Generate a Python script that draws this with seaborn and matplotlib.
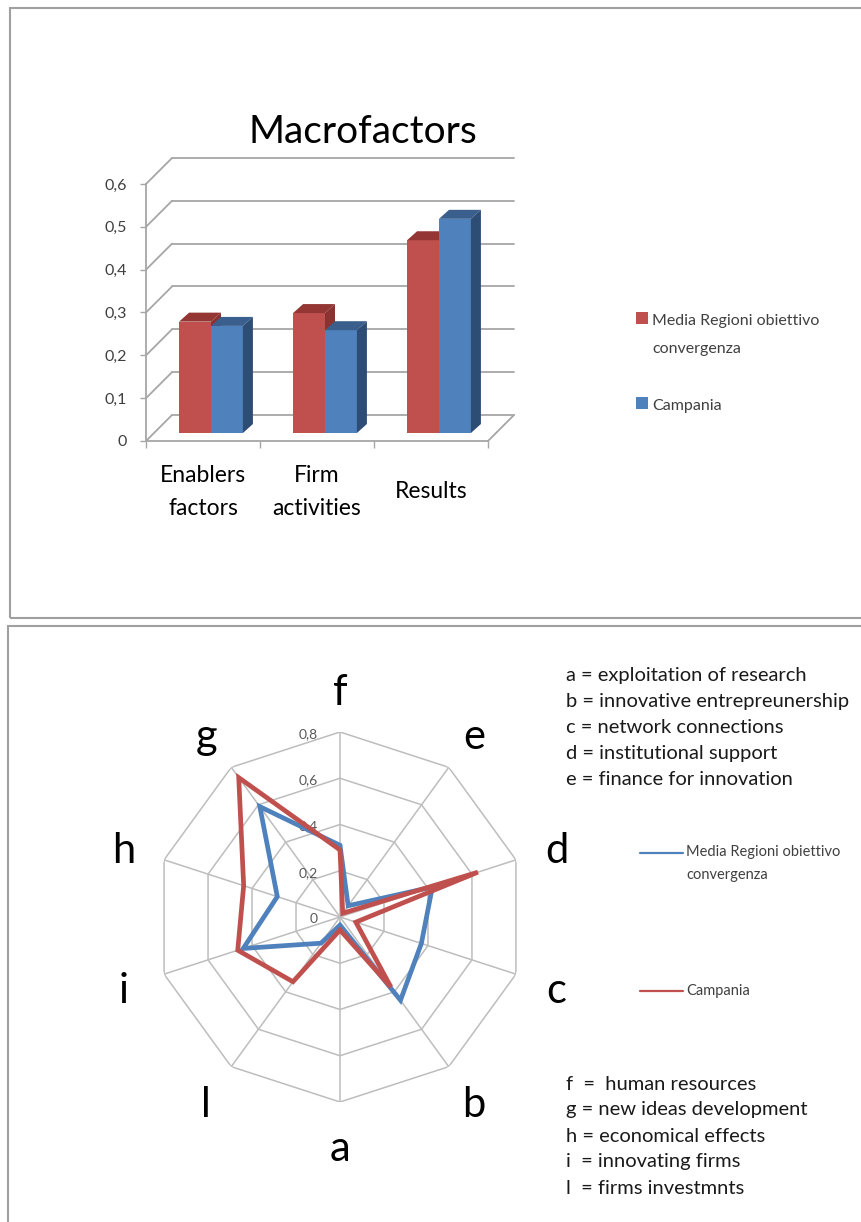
import numpy as np
import pandas as pd
import matplotlib
matplotlib.use("Agg")
import matplotlib.pyplot as plt
import matplotlib.transforms as mtransforms
from matplotlib.patches import Polygon, Rectangle
from matplotlib.lines import Line2D
import seaborn as sns

# ---------------------------------------------------------------- data
macro_categories = ["Enablers\nfactors", "Firm\nactivities", "Results"]
series_names = ["Media Regioni obiettivo convergenza", "Campania"]
media_macro = [0.26, 0.28, 0.45]
campania_macro = [0.25, 0.24, 0.50]
macro_yticks = [0.0, 0.1, 0.2, 0.3, 0.4, 0.5, 0.6]

radar_axes = ["f", "e", "d", "c", "b", "a", "l", "i", "h", "g"]
media_radar = [0.31, 0.06, 0.42, 0.37, 0.445, 0.035, 0.14, 0.44, 0.285, 0.59]
campania_radar = [0.29, 0.02, 0.627, 0.072, 0.375, 0.056, 0.346, 0.465, 0.438, 0.745]
radar_rings = [0.2, 0.4, 0.6, 0.8]

key_upper = ["a = exploitation of research",
             "b = innovative entrepreunership",
             "c = network connections",
             "d = institutional support",
             "e = finance for innovation"]
key_lower = ["f  =  human resources",
             "g = new ideas development",
             "h = economical effects",
             "i  = innovating firms",
             "l  = firms investmnts"]

# ---------------------------------------------------------------- style
sns.set_theme(style="white")
plt.rcParams["font.family"] = ["Lato", "DejaVu Sans"]

RED, RED_TOP, RED_SIDE = "#C0504D", "#943634", "#8A3331"
BLUE, BLUE_TOP, BLUE_SIDE = "#4F81BD", "#3A5F8C", "#2E4D75"
GRID = "#A6A6A6"
FRAME = "#A0A0A0"

W, H, DPI = 861, 1222, 100
fig = plt.figure(figsize=(W / DPI, H / DPI), dpi=DPI)
fig.patch.set_facecolor("white")


def px_box(left, top, width, height):
    return [left / W, 1 - (top + height) / H, width / W, height / H]


def fx(x):
    return x / W


def fy(y):
    return 1 - y / H


# panel frames
for (l, t, r, b) in [(10, 8, 875, 618), (8, 626, 875, 1240)]:
    fig.add_artist(Rectangle((fx(l), fy(b)), fx(r - l), fy(t) - fy(b),
                             transform=fig.transFigure, fill=False,
                             edgecolor=FRAME, linewidth=1.5))

# ---------------------------------------------------------------- 3D-look bars
ax = fig.add_axes(px_box(146, 184, 342, 257))
df = pd.DataFrame({
    "Macrofactor": macro_categories * 2,
    "Serie": [series_names[0]] * 3 + [series_names[1]] * 3,
    "Valore": media_macro + campania_macro,
})
sns.barplot(data=df, x="Macrofactor", y="Valore", hue="Serie",
            order=macro_categories, hue_order=series_names,
            palette=[RED, BLUE], width=0.56, saturation=1, linewidth=0,
            legend=False, ax=ax)
ax.set_xlim(-0.5, 2.5)
ax.set_ylim(0, 0.6)
ax.set_xlabel("")
ax.set_ylabel("")

px_x = 342 / 3.0          # pixels per category
px_y = 257 / 0.6          # pixels per unit value

# bars sit a little behind the front axis plane
plane = ax.transData + mtransforms.ScaledTranslation(8 / DPI, 8 / DPI, fig.dpi_scale_trans)
ddx, ddy = 10 / px_x, 9 / px_y          # bar depth
bdx, bdy = 26 / px_x, 26 / px_y         # back wall depth

n = len(macro_categories)
for k, p in enumerate(ax.patches[:2 * n]):
    is_red = k < n
    top_c = RED_TOP if is_red else BLUE_TOP
    side_c = RED_SIDE if is_red else BLUE_SIDE
    z = 3 if is_red else 4
    p.set_transform(plane)
    p.set_clip_on(False)
    p.set_zorder(z)
    x0, w, h = p.get_x(), p.get_width(), p.get_height()
    top = Polygon([(x0, h), (x0 + w, h), (x0 + w + ddx, h + ddy), (x0 + ddx, h + ddy)],
                  closed=True, facecolor=top_c, edgecolor="none",
                  transform=plane, clip_on=False, zorder=z)
    side = Polygon([(x0 + w, 0), (x0 + w + ddx, ddy), (x0 + w + ddx, h + ddy), (x0 + w, h)],
                   closed=True, facecolor=side_c, edgecolor="none",
                   transform=plane, clip_on=False, zorder=z)
    ax.add_patch(top)
    ax.add_patch(side)

# back wall grid and side-wall diagonals
for v in macro_yticks:
    ax.plot([-0.5 + bdx, 2.5 + bdx], [v + bdy, v + bdy], color=GRID, lw=1.3,
            clip_on=False, zorder=1)
    ax.plot([-0.5, -0.5 + bdx], [v, v + bdy], color=GRID, lw=1.3,
            clip_on=False, zorder=1)
ax.plot([2.5, 2.5 + bdx], [0, bdy], color=GRID, lw=1.3, clip_on=False, zorder=1)

for s in ["top", "right"]:
    ax.spines[s].set_visible(False)
for s in ["left", "bottom"]:
    ax.spines[s].set_color(GRID)
    ax.spines[s].set_linewidth(1.3)
    ax.spines[s].set_zorder(2)
ax.set_yticks(macro_yticks, labels=[("%g" % v).replace(".", ",") for v in macro_yticks])
ax.tick_params(axis="y", direction="out", length=4.5, width=1, color=GRID,
               pad=9, labelsize=11.5, labelcolor="#404040", left=True)
ax.set_xticks([])
ax.set_xticks([-0.5, 0.5, 1.5, 2.5], minor=True)
ax.tick_params(axis="x", which="minor", direction="out", length=5, width=1,
               color=GRID, bottom=True)
ax.patch.set_visible(False)

lab_tr = ax.transData + mtransforms.ScaledTranslation(0, -51 / DPI, fig.dpi_scale_trans)
for i, lab in enumerate(macro_categories):
    ax.text(i, 0, lab, transform=lab_tr, ha="center", va="center",
            fontsize=16.5, linespacing=1.75, color="black")

fig.text(fx(363), fy(143), "Macrofactors", ha="center", va="baseline",
         fontsize=28, color="black")

# bar legend
for (ytop, col) in [(312, RED), (397, BLUE)]:
    fig.add_artist(Rectangle((fx(636), fy(ytop + 11.5)), fx(11.5), fy(ytop) - fy(ytop + 11.5),
                             transform=fig.transFigure, facecolor=col, edgecolor="none"))
fig.text(fx(652), fy(325), "Media Regioni obiettivo", ha="left", va="baseline",
         fontsize=11.5, color="#404040")
fig.text(fx(652), fy(353), "convergenza", ha="left", va="baseline",
         fontsize=11.5, color="#404040")
fig.text(fx(652), fy(410), "Campania", ha="left", va="baseline",
         fontsize=11.5, color="#404040")

# ---------------------------------------------------------------- radar
R_PX = 185
rax = fig.add_axes(px_box(340 - R_PX, 917 - R_PX, 2 * R_PX, 2 * R_PX), projection="polar")
rax.set_theta_zero_location("N")
rax.set_theta_direction(-1)
rax.set_ylim(0, 0.8)
rax.grid(False)
rax.spines["polar"].set_visible(False)
rax.set_xticks([])
rax.set_yticks([])
rax.patch.set_visible(False)

theta = np.arange(len(radar_axes)) * 2 * np.pi / len(radar_axes)
theta_c = np.append(theta, theta[0])
for r in radar_rings:
    rax.plot(theta_c, [r] * len(theta_c), color="#BDBDBD", lw=1.1, zorder=1)
for t in theta:
    rax.plot([t, t], [0, radar_rings[-1]], color="#BDBDBD", lw=1.1, zorder=1)

rax.plot(theta_c, media_radar + media_radar[:1], color=BLUE, lw=3.4,
         solid_joinstyle="miter", zorder=3)
rax.plot(theta_c, campania_radar + campania_radar[:1], color=RED, lw=3.4,
         solid_joinstyle="miter", zorder=4)

for r in [0.0] + radar_rings:
    rax.annotate(("%g" % r).replace(".", ","), xy=(0, r), xytext=(-22, -2),
                 textcoords="offset pixels", ha="right", va="center",
                 fontsize=10, color="#595959", annotation_clip=False, zorder=2)

for t, name in zip(theta, radar_axes):
    rax.annotate(name, xy=(t, 0.985), xytext=(0, -4), textcoords="offset pixels",
                 ha="center", va="center", fontsize=30, color="black",
                 annotation_clip=False)

# radar legend
fig.add_artist(Line2D([fx(640), fx(683)], [fy(853), fy(853)], color=BLUE, lw=1.6,
                      transform=fig.transFigure))
fig.add_artist(Line2D([fx(640), fx(683)], [fy(991), fy(991)], color=RED, lw=1.6,
                      transform=fig.transFigure))
fig.text(fx(686), fy(852), "Media Regioni obiettivo", ha="left", va="center",
         fontsize=10.5, color="#404040")
fig.text(fx(686), fy(875), "convergenza", ha="left", va="center",
         fontsize=10.5, color="#404040")
fig.text(fx(686), fy(991), "Campania", ha="left", va="center",
         fontsize=10.5, color="#404040")

# axis letter key
for j, line in enumerate(key_upper):
    fig.text(fx(566), fy(676 + 25.9 * j), line, ha="left", va="center",
             fontsize=14.5, color="#1A1A1A")
for j, line in enumerate(key_lower):
    fig.text(fx(566), fy(1084 + 26 * j), line, ha="left", va="center",
             fontsize=14.5, color="#1A1A1A")

fig.savefig("out.png", dpi=DPI, facecolor="white")
